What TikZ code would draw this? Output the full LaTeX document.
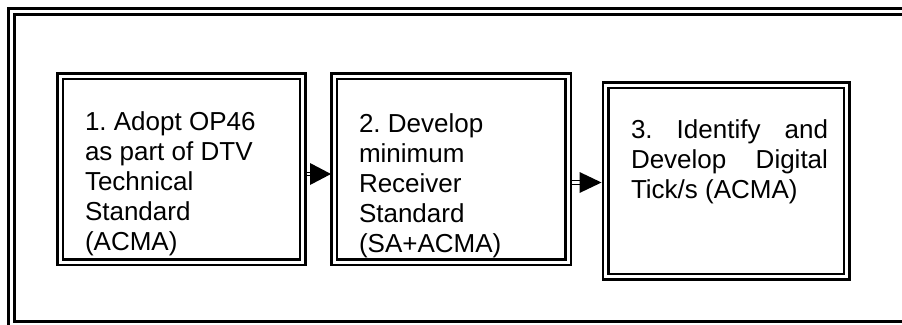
\documentclass[tikz,border=0pt]{standalone}
\usepackage{fontspec}
\setmainfont{Liberation Sans}
\usetikzlibrary{calc}
\frenchspacing
\begin{document}
\begin{tikzpicture}[x=1pt,y=-1pt,
  boxd/.style={draw, double, line width=2.5pt, double distance=3pt, inner sep=0pt, outer sep=0pt},
  framebox/.style={draw, double, line width=3pt, double distance=3pt},
  txt/.style={anchor=base west, inner sep=0pt, outer sep=0pt, font=\fontsize{26}{30}\selectfont\frenchspacing},
  shaft/.style={draw, double, line width=1.3pt, double distance=2.3pt},
  head/.style={fill=black}]
\fill[white] (0,0) rectangle (902,324);
\useasboundingbox (0,0) rectangle (902,324);
\clip (0,0) rectangle (902,324);
% outer frame
\draw[framebox] (11.5,11.5) rectangle (915,324.5);
% boxes
\node[boxd, minimum width=242.5pt, minimum height=186pt] (b1) at (181.25,169) {};
\node[boxd, minimum width=234pt, minimum height=186pt] (b2) at (451,169) {};
\node[boxd, minimum width=241pt, minimum height=191.5pt] (b3) at (726,180.75) {};
% texts
\node[txt] (t1) at (85,130.7) {\vtop{\hbox{1. Adopt OP46}\hbox{as part of DTV}\hbox{Technical}\hbox{Standard}\hbox{(ACMA)}}};
\node[txt] (t2) at (359,132.7) {\vtop{\hbox{2. Develop}\hbox{minimum}\hbox{Receiver}\hbox{Standard}\hbox{(SA+ACMA)}}};
\node[txt] (t3) at (631,138.5) {\vtop{\hbox to 197pt{3. Identify and}\hbox to 197pt{Develop Digital}\hbox{Tick/s (ACMA)}}};
% arrows
\coordinate (r1) at (0,174);
\coordinate (r2) at (0,182.5);
\coordinate (a1s) at (b1.east|-r1);
\coordinate (a1e) at (b2.west|-r1);
\coordinate (a2s) at (b2.east|-r2);
\coordinate (a2e) at (b3.west|-r2);
\draw[shaft] ($(a1s)+(4,0)$) -- ($(a1e)+(-22,0)$);
\fill[head] ($(a1e)+(-3,0)$) -- ++(-21,-11) -- ++(0,22) -- cycle;
\draw[shaft] ($(a2s)+(4,0)$) -- ($(a2e)+(-25,0)$);
\fill[head] ($(a2e)+(-4,0)$) -- ++(-22,-10.5) -- ++(0,21) -- cycle;
\end{tikzpicture}
\end{document}
